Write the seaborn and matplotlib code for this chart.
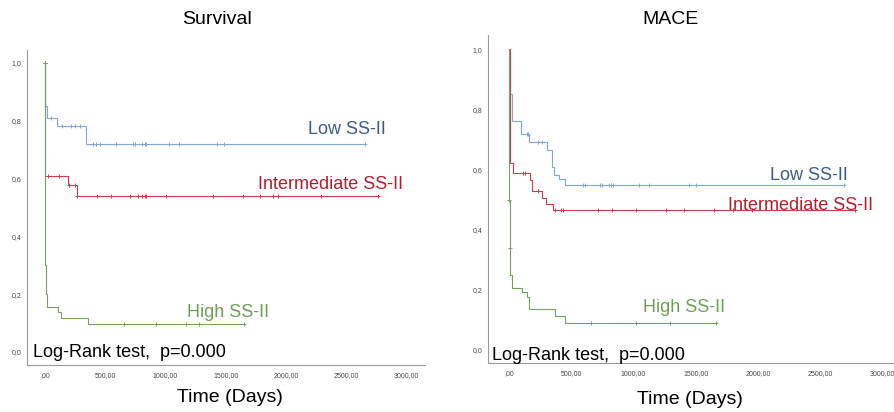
import numpy as np
import matplotlib
matplotlib.use("Agg")
import matplotlib.pyplot as plt
import seaborn as sns

# ---- data (days, cumulative survival) ----
surv_low_t = [0, 2, 20, 100, 345]
surv_low_s = [1.0, 0.85, 0.81, 0.78, 0.72]
surv_low_cens = [0, 55, 146, 221, 254, 290, 400, 423, 456, 586, 732, 751, 807,
                 829, 840, 1028, 1110, 1431, 1486, 2652]

surv_int_t = [0, 1, 3, 190, 265]
surv_int_s = [1.0, 0.72, 0.61, 0.577, 0.54]
surv_int_cens = [0, 28, 119, 199, 249, 268, 434, 547, 704, 773, 807, 829, 837,
                 1003, 1395, 1644, 1787, 1892, 1934, 2287, 2762]

surv_high_t = [0, 2, 5, 10, 20, 110, 138, 359]
surv_high_s = [1.0, 0.6, 0.3, 0.2, 0.155, 0.138, 0.118, 0.098]
surv_high_cens = [0, 657, 925, 1174, 1279, 1652]

mace_low_t = [0, 8, 21, 94, 161, 303, 343, 362, 402, 450]
mace_low_s = [1.0, 0.85, 0.76, 0.717, 0.693, 0.665, 0.61, 0.582, 0.568, 0.549]
mace_low_cens = [142, 155, 236, 263, 592, 611, 732, 748, 807, 820, 839, 1046,
                 1126, 1450, 1504, 2689]

mace_int_t = [0, 3, 29, 169, 182, 263, 300, 351]
mace_int_s = [1.0, 0.62, 0.59, 0.565, 0.53, 0.504, 0.485, 0.466]
mace_int_cens = [110, 129, 236, 365, 418, 432, 713, 831, 1019, 1263, 1410, 1651,
                 1804, 1957, 2783]

mace_high_t = [0, 2, 5, 10, 20, 102, 142, 161, 370, 450]
mace_high_s = [1.0, 0.5, 0.338, 0.25, 0.205, 0.194, 0.177, 0.135, 0.114, 0.091]
mace_high_cens = [2, 5, 660, 1019, 1295, 1662]

group_names = ["Low SS-II", "Intermediate SS-II", "High SS-II"]
line_colors = ["#7fa6d6", "#d23a4a", "#74a35e"]
text_colors = ["#3d5c88", "#b01f2c", "#6f9f55"]

x_ticks = [0, 500, 1000, 1500, 2000, 2500, 3000]
x_ticklabels = [",00", "500,00", "1000,00", "1500,00", "2000,00", "2500,00", "3000,00"]
y_ticks = [0.0, 0.2, 0.4, 0.6, 0.8, 1.0]
y_ticklabels = ["0,0", "0,2", "0,4", "0,6", "0,8", "1,0"]

sns.set_theme(style="white")
plt.rcParams["font.family"] = ["Liberation Sans", "DejaVu Sans"]
plt.rcParams["text.color"] = "black"


def km_curve(ax, times, surv, cens, color):
    t = np.asarray(times, float)
    s = np.asarray(surv, float)
    end = max(cens[-1], t[-1])
    tx = np.append(t, end)
    sy = np.append(s, s[-1])
    sns.lineplot(x=tx, y=sy, drawstyle="steps-post", color=color, lw=0.8,
                 estimator=None, sort=False, ax=ax)
    c = np.asarray(cens, float)
    cy = s[np.searchsorted(t, c, side="right") - 1]
    ax.plot(c, cy, ls="none", marker="+", ms=3.5, mew=0.7, color=color)


def style_axes(ax, xlim, ylim):
    ax.set_xlim(*xlim)
    ax.set_ylim(*ylim)
    ax.set_xticks(x_ticks)
    ax.set_xticklabels(x_ticklabels)
    ax.set_yticks(y_ticks)
    ax.set_yticklabels(y_ticklabels)
    ax.tick_params(axis="both", labelsize=5, colors="#444444", length=0)
    ax.tick_params(axis="x", pad=5)
    ax.tick_params(axis="y", pad=4)
    for side in ["top", "right"]:
        ax.spines[side].set_visible(False)
    for side in ["left", "bottom"]:
        ax.spines[side].set_color("#9a9a9a")
        ax.spines[side].set_linewidth(0.8)
    ax.set_xlabel("")
    ax.set_ylabel("")


fig = plt.figure(figsize=(8.94, 4.12), dpi=100)
ax1 = fig.add_axes([0.030, 0.114, 0.445, 0.765])
ax2 = fig.add_axes([0.546, 0.119, 0.454, 0.796])

# Survival panel
for (t, s, c), col in zip([(surv_low_t, surv_low_s, surv_low_cens),
                           (surv_int_t, surv_int_s, surv_int_cens),
                           (surv_high_t, surv_high_s, surv_high_cens)], line_colors):
    km_curve(ax1, t, s, c, col)
style_axes(ax1, (-149, 3148), (-0.045, 1.045))
for name, col, (tx, ty) in zip(group_names, text_colors,
                               [(2179, 0.768), (1765, 0.578), (1176, 0.135)]):
    ax1.text(tx, ty, name, color=col, fontsize=13, ha="left", va="center")
ax1.text(-99, -0.003, "Log-Rank test,  p=0.000", fontsize=13, ha="left", va="center")

# MACE panel
for (t, s, c), col in zip([(mace_low_t, mace_low_s, mace_low_cens),
                           (mace_int_t, mace_int_s, mace_int_cens),
                           (mace_high_t, mace_high_s, mace_high_cens)], line_colors):
    km_curve(ax2, t, s, c, col)
style_axes(ax2, (-169, 3095), (-0.043, 1.047))
for name, col, (tx, ty) in zip(group_names, text_colors,
                               [(2098, 0.581), (1760, 0.482), (1077, 0.14)]):
    ax2.text(tx, ty, name, color=col, fontsize=13, ha="left", va="center")
ax2.text(-137, -0.017, "Log-Rank test,  p=0.000", fontsize=13, ha="left", va="center")

fig.text(217 / 894, 1 - 20 / 412, "Survival", fontsize=14, ha="center", va="center")
fig.text(671 / 894, 1 - 20 / 412, "MACE", fontsize=14, ha="center", va="center")
fig.text(230 / 894, 1 - 398 / 412, "Time (Days)", fontsize=14, ha="center", va="center")
fig.text(690 / 894, 1 - 400 / 412, "Time (Days)", fontsize=14, ha="center", va="center")

fig.savefig("out.png", dpi=100)
